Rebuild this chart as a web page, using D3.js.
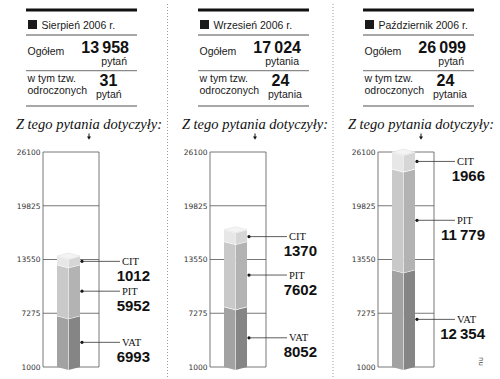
<!DOCTYPE html>
<html>
<head>
<meta charset="utf-8">
<script src="https://cdn.jsdelivr.net/npm/d3@7"></script>
<style>
  body { margin: 0; background: #fff; }
  svg { display: block; }
  .hd { font-family: "Liberation Sans", Arial, sans-serif; fill: #1a1a1a; }
  .num { font-family: "Liberation Sans", Arial, sans-serif; font-weight: bold; fill: #111; }
  .ser { font-family: "Liberation Serif", "Times New Roman", serif; fill: #111; }
</style>
</head>
<body>
<svg id="chart"></svg>
<script>
// data
const months = ["Sierpień 2006 r.", "Wrzesień 2006 r.", "Październik 2006 r."];
const totals = [13958, 17024, 26099];
const totalWords = ["pytań", "pytania", "pytań"];
const deferred = [31, 24, 24];
const deferredWords = ["pytań", "pytania", "pytania"];
const taxes = ["VAT", "PIT", "CIT"];
const vat = [6993, 8052, 12354];
const pit = [5952, 7602, 11779];
const cit = [1012, 1370, 1966];
const tickValues = [1000, 7275, 13550, 19825, 26100];

// layout
const width = 500, height = 379;
const tableX = [26, 198, 363];
const tableW = 111;
const frameX = [43, 210, 378];
const frameW = 56;
const titleX = [89, 255, 421];

const svg = d3.select("#chart").attr("width", width).attr("height", height);

// numbers: 5 digits get a space, 4 digits do not
const fmt = v => v >= 10000 ? d3.format(",")(v).replace(",", "\u2009") : String(v);

const y = d3.scaleLinear().domain([1000, 26100]).range([367, 152]);

// rows for the stack
const rows = months.map((m, i) => ({ VAT: vat[i], PIT: pit[i], CIT: cit[i] }));
const series = d3.stack().keys(taxes)(rows);

// face colours per segment [left, right]
const faces = {
  VAT: ["#a2a2a2", "#858585"],
  PIT: ["#c9c9c9", "#b3b3b3"],
  CIT: ["#e7e7e7", "#d6d6d6"]
};

// dotted separators
[167.5, 333].forEach(x => {
  svg.append("line")
    .attr("x1", x).attr("x2", x).attr("y1", 4).attr("y2", 377)
    .attr("stroke", "#9a9a9a").attr("stroke-width", 1)
    .attr("stroke-dasharray", "1,2");
});

months.forEach((m, i) => {
  const L = tableX[i];
  const g = svg.append("g");

  // header table
  g.append("rect").attr("x", L).attr("y", 8.5).attr("width", tableW).attr("height", 3).attr("fill", "#111");
  g.append("rect").attr("x", L + 2).attr("y", 20).attr("width", 9).attr("height", 9).attr("fill", "#1a1a1a");
  g.append("text").attr("class", "hd").attr("x", L + 15.5).attr("y", 28.5)
    .attr("font-size", 10.5).text(m);
  [35, 70.7, 106].forEach(ly => {
    g.append("line").attr("x1", L).attr("x2", L + tableW).attr("y1", ly).attr("y2", ly)
      .attr("stroke", "#8a8a8a").attr("stroke-width", 1.3);
  });

  g.append("text").attr("class", "hd").attr("x", L + 1.5).attr("y", 54.5)
    .attr("font-size", 10.5).text("Ogółem");
  g.append("text").attr("class", "num").attr("x", L + 103).attr("y", 52.5)
    .attr("text-anchor", "end").attr("font-size", 16).text(fmt(totals[i]));
  g.append("text").attr("class", "hd").attr("x", L + 101).attr("y", 64.5)
    .attr("text-anchor", "end").attr("font-size", 10.5).text(totalWords[i]);

  g.append("text").attr("class", "hd").attr("x", L + 1.5).attr("y", 82)
    .attr("font-size", 10.5).text("w tym tzw.");
  g.append("text").attr("class", "hd").attr("x", L + 1.5).attr("y", 94)
    .attr("font-size", 10.5).text("odroczonych");
  g.append("text").attr("class", "num").attr("x", L + 73.5).attr("y", 86)
    .attr("font-size", 16).text(deferred[i]);
  g.append("text").attr("class", "hd").attr("x", L + 70).attr("y", 97.5)
    .attr("font-size", 10.5).text(deferredWords[i]);

  // caption and arrow
  g.append("text").attr("class", "ser").attr("x", titleX[i]).attr("y", 128.5)
    .attr("text-anchor", "middle").attr("font-size", 14.5).attr("font-style", "italic")
    .text("Z tego pytania dotyczyły:");
  g.append("line").attr("x1", titleX[i]).attr("x2", titleX[i]).attr("y1", 133.5).attr("y2", 137)
    .attr("stroke", "#111").attr("stroke-width", 1);
  g.append("path")
    .attr("d", `M${titleX[i] - 2},136.5L${titleX[i] + 2},136.5L${titleX[i]},139.8Z`)
    .attr("fill", "#111");

  // frame with grid
  const F = frameX[i];
  tickValues.forEach(t => {
    g.append("line").attr("x1", F).attr("x2", F + frameW).attr("y1", y(t)).attr("y2", y(t))
      .attr("stroke", "#555").attr("stroke-width", 0.8);
    g.append("text").attr("x", F - 2.5).attr("y", y(t) + 2.8)
      .attr("text-anchor", "end").attr("font-size", 7.5)
      .attr("font-family", "DejaVu Sans, sans-serif").attr("fill", "#333")
      .text(t);
  });
  [F, F + frameW].forEach(x => {
    g.append("line").attr("x1", x).attr("x2", x).attr("y1", y(26100)).attr("y2", y(1000))
      .attr("stroke", "#555").attr("stroke-width", 0.8);
  });

  // 3D stacked bar
  const x0 = F + 14, x1 = F + 37, xc = (x0 + x1) / 2, d = 3;
  series.forEach(s => {
    const seg = s[i];
    const yb = s.key === "VAT" ? y(1000) : y(seg[0]);
    const yt = y(seg[1]);
    const [cl, cr] = faces[s.key];
    g.append("path")
      .attr("d", `M${x0},${yb}L${xc},${yb + d}L${xc},${yt + d}L${x0},${yt}Z`)
      .attr("fill", cl);
    g.append("path")
      .attr("d", `M${xc},${yb + d}L${x1},${yb}L${x1},${yt}L${xc},${yt + d}Z`)
      .attr("fill", cr);
    // white seam at top of segment
    g.append("path")
      .attr("d", `M${x0},${yt}L${xc},${yt + d}L${x1},${yt}`)
      .attr("fill", "none").attr("stroke", "#fff").attr("stroke-width", 1.2);
    // thin highlight along the front edge
    g.append("line").attr("x1", xc).attr("x2", xc).attr("y1", yt + d).attr("y2", yb + d)
      .attr("stroke", "#f2f2f2").attr("stroke-width", 0.6);

    // leader and labels
    const ym = (y(seg[1]) + (s.key === "VAT" ? y(1000) : y(seg[0]))) / 2 + 1;
    const nr = F + frameW + 51;
    g.append("circle").attr("cx", x1 + 2).attr("cy", ym).attr("r", 1.6).attr("fill", "#111");
    g.append("line").attr("x1", x1 + 2).attr("x2", nr - 30).attr("y1", ym).attr("y2", ym)
      .attr("stroke", "#333").attr("stroke-width", 0.8);
    g.append("text").attr("class", "ser").attr("x", nr - 28).attr("y", ym + 3.5)
      .attr("font-size", 10.5).text(s.key);
    g.append("text").attr("class", "num").attr("x", nr).attr("y", ym + 19.5)
      .attr("text-anchor", "end").attr("font-size", 15).text(fmt(seg[1] - seg[0]));
  });

  // top face of the bar
  const top = y(series[series.length - 1][i][1]);
  g.append("path")
    .attr("d", `M${x0},${top}L${xc},${top + d}L${x1},${top}L${xc},${top - d}Z`)
    .attr("fill", "#f4f4f4").attr("stroke", "#dcdcdc").attr("stroke-width", 0.5);
});

// author mark
svg.append("text")
  .attr("transform", "translate(479,357) rotate(90)")
  .attr("font-size", 7).attr("font-family", "DejaVu Sans, sans-serif").attr("fill", "#444")
  .text("nu");
</script>
</body>
</html>
